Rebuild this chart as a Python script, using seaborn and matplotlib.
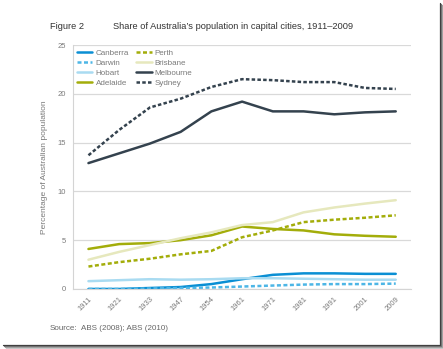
import matplotlib
matplotlib.use("Agg")
import matplotlib.pyplot as plt
from matplotlib.lines import Line2D
import numpy as np
import pandas as pd
import seaborn as sns

years = ["1911", "1921", "1933", "1947", "1954", "1961", "1971", "1981", "1991", "2001", "2009"]

canberra = [0.0, 0.0, 0.1, 0.2, 0.5, 1.0, 1.45, 1.6, 1.6, 1.55, 1.55]
darwin = [0.0, 0.0, 0.05, 0.1, 0.15, 0.25, 0.35, 0.45, 0.5, 0.5, 0.55]
hobart = [0.8, 0.9, 1.0, 0.95, 1.0, 1.1, 1.1, 1.05, 1.0, 0.95, 0.95]
adelaide = [4.1, 4.6, 4.7, 5.0, 5.5, 6.4, 6.15, 6.0, 5.6, 5.45, 5.35]
perth = [2.3, 2.75, 3.1, 3.55, 3.9, 5.3, 6.0, 6.85, 7.1, 7.3, 7.55]
brisbane = [3.0, 3.8, 4.5, 5.2, 5.8, 6.55, 6.85, 7.85, 8.35, 8.75, 9.1]
melbourne = [12.9, 13.9, 14.9, 16.1, 18.2, 19.2, 18.2, 18.2, 17.9, 18.1, 18.2]
sydney = [13.7, 16.3, 18.6, 19.5, 20.7, 21.5, 21.4, 21.2, 21.2, 20.6, 20.5]

cities = ["Canberra", "Darwin", "Hobart", "Adelaide", "Perth", "Brisbane", "Melbourne", "Sydney"]
series = [canberra, darwin, hobart, adelaide, perth, brisbane, melbourne, sydney]

colors = {
    "Canberra": "#0a8fd4",
    "Darwin": "#4db6e6",
    "Hobart": "#a9dbf1",
    "Adelaide": "#a3ad0a",
    "Perth": "#a3ad0a",
    "Brisbane": "#e6e8bd",
    "Melbourne": "#34424e",
    "Sydney": "#34424e",
}
dashes = {
    "Canberra": "",
    "Darwin": (1.6, 1.0),
    "Hobart": "",
    "Adelaide": "",
    "Perth": (1.6, 1.0),
    "Brisbane": "",
    "Melbourne": "",
    "Sydney": (1.4, 0.9),
}

df = pd.DataFrame({
    "pos": np.tile(np.arange(len(years)), len(cities)),
    "share": np.concatenate(series),
    "city": np.repeat(cities, len(years)),
})

sns.set_style("white")
plt.rcParams["font.family"] = ["Liberation Sans", "DejaVu Sans"]

fig = plt.figure(figsize=(4.43, 3.49), dpi=100)
ax = fig.add_axes([0.165, 0.172, 0.763, 0.699])

sns.lineplot(data=df, x="pos", y="share", hue="city", style="city",
             hue_order=cities, style_order=cities, palette=colors,
             dashes=dashes, linewidth=1.8, ax=ax, legend=False)

ax.set_xlim(-0.5, len(years) - 0.5)
ax.set_ylim(0, 25)
ax.set_yticks([0, 5, 10, 15, 20, 25])
ax.set_xticks(np.arange(len(years)))
ax.set_xticklabels(years, rotation=45, ha="right", rotation_mode="anchor")
ax.tick_params(axis="both", colors="#bdbdbd", labelcolor="#7a7a7a", labelsize=5.5,
               length=3, width=0.6, pad=2)
ax.grid(axis="y", color="#d9d9d9", linewidth=0.9)
ax.set_axisbelow(True)
for side in ["top", "right"]:
    ax.spines[side].set_visible(False)
ax.spines["left"].set_color("#d4d4d4")
ax.spines["bottom"].set_color("#d4d4d4")
ax.spines["left"].set_linewidth(0.8)
ax.spines["bottom"].set_linewidth(0.8)
ax.set_xlabel("")
ax.set_ylabel("Percentage of Australian population", fontsize=6, color="#7a7a7a", labelpad=7)

handles = [Line2D([], [], color=colors[c], linewidth=1.8,
                  linestyle=((0, dashes[c]) if dashes[c] else "-")) for c in cities]
leg = ax.legend(handles, cities, ncol=2, loc="upper left", bbox_to_anchor=(0.0, 1.0),
                frameon=False, fontsize=5.8, handlelength=1.9, handletextpad=0.4,
                columnspacing=0.9, labelspacing=0.3, borderaxespad=0.2,
                borderpad=0.3)
for t in leg.get_texts():
    t.set_color("#7a7a7a")

fig.text(0.113, 0.918, "Figure 2", fontsize=6.7, color="#333333", va="baseline")
fig.text(0.255, 0.918, "Share of Australia\u2019s population in capital cities, 1911\u20132009",
         fontsize=6.7, color="#333333", va="baseline")
fig.text(0.113, 0.055, "Source:", fontsize=5.8, color="#666666", va="baseline")
fig.text(0.182, 0.055, "ABS (2008); ABS (2010)", fontsize=5.8, color="#666666", va="baseline")

# page edge with a soft shadow along the right and bottom
for i, g in enumerate(["#3a3a3a", "#6e6e6e", "#9c9c9c", "#c4c4c4", "#e2e2e2"]):
    x = (439.5 + i) / 443
    y = 1 - (344.5 + i) / 349
    fig.add_artist(Line2D([x, x], [y, 1 - (3 + i) / 349], color=g, linewidth=0.9,
                          transform=fig.transFigure))
    fig.add_artist(Line2D([(3 + i) / 443, x], [y, y], color=g, linewidth=0.9,
                          transform=fig.transFigure))

fig.savefig("out.png", dpi=100)
